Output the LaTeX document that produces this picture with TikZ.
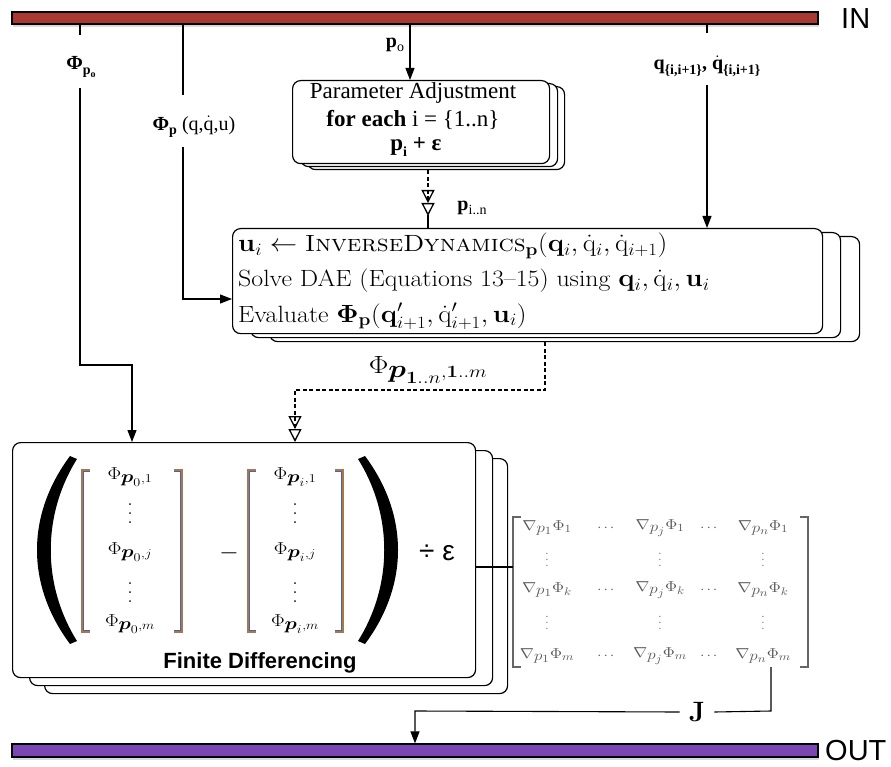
\documentclass[tikz,border=0pt]{standalone}
\usepackage[no-math]{fontspec}
\usepackage{amsmath}
\usepackage{graphicx}
\usetikzlibrary{arrows.meta,shadows,calc}
\newfontfamily\tms{Liberation Serif}
\newfontfamily\hlv{Liberation Sans}
\definecolor{inred}{RGB}{169,56,50}
\definecolor{outpurple}{RGB}{123,69,179}
\definecolor{brbrown}{RGB}{170,120,70}
\definecolor{brblue}{RGB}{70,100,175}
\newcommand{\lsub}[1]{\raisebox{-0.22em}{\fontsize{14}{14}\selectfont #1}}
\newcommand{\lsubb}[1]{\raisebox{-0.2em}{\fontsize{10}{10}\selectfont #1}}
\newcommand{\qdot}{$\dot{\text{q}}$}
\newcommand{\xs}[1]{\scalebox{1.18}[1]{#1}}
\newcommand{\xb}[1]{\scalebox{1.1}[1]{#1}}
\newcommand{\bigvd}{\vbox{\baselineskip=9pt\lineskiplimit=0pt\hbox{\fontsize{22}{22}\selectfont .}\hbox{\fontsize{22}{22}\selectfont .}\hbox{\fontsize{22}{22}\selectfont .}}}
\newcommand{\smallvd}{\vbox{\baselineskip=6pt\lineskiplimit=0pt\hbox{\fontsize{15}{15}\selectfont .}\hbox{\fontsize{15}{15}\selectfont .}\hbox{\fontsize{15}{15}\selectfont .}}}
\begin{document}
\begin{tikzpicture}[x=1pt,y=-1pt,
  line/.style={line width=1.1pt},
  arr/.style={line width=1.1pt,-{Triangle[length=12pt,width=9pt]}},
  dasharr/.style={line width=1.3pt,dash pattern=on 4pt off 2.5pt,
     -{Triangle[open,length=13pt,width=13pt,line width=1.3pt]Triangle[open,length=13pt,width=13pt,line width=1.3pt]}},
  box/.style={draw,line width=1.2pt,rounded corners=8pt,fill=white,anchor=north west,inner sep=0pt},
  bar/.style={draw,line width=1.2pt,inner sep=0pt,minimum width=806pt,minimum height=12pt,
     drop shadow={opacity=0.3,shadow xshift=1pt,shadow yshift=-3pt}},
  lbl/.style={font=\tms\bfseries\fontsize{20}{22}\selectfont,inner sep=0pt},
  ptxt/.style={font=\tms\fontsize{23}{24}\selectfont,inner sep=0pt,anchor=base},
  btxt/.style={font=\fontsize{23.5}{27}\selectfont,inner sep=0pt,anchor=base west},
  vtxt/.style={font=\fontsize{17}{20}\selectfont,inner sep=0pt},
  vdt/.style={inner sep=0pt},
  mtxt/.style={font=\fontsize{15.5}{17}\selectfont,inner sep=0pt,text=black!65},
]
\path[use as bounding box] (0,0) rectangle (891,767);

% bars
\node[bar,fill=inred] (in) at (415,18) {};
\node[bar,fill=outpurple,minimum height=13pt] (out) at (415,750.5) {};
\node[font=\hlv\fontsize{29}{30}\selectfont,anchor=west,inner sep=0pt] (intext) at (841,19) {IN};
\node[font=\hlv\fontsize{29}{30}\selectfont,anchor=west,inner sep=0pt] (outtext) at (825,751) {OUT};

% parameter adjustment stack
\node[box,minimum width=257pt,minimum height=83pt] (param3) at (307,86) {};
\node[box,minimum width=257pt,minimum height=83pt] (param2) at (300,83) {};
\node[box,minimum width=257pt,minimum height=83pt] (param) at (292,80) {};
\node[ptxt] (pt1) at (413,99) {Parameter Adjustment};
\node[ptxt] (pt2) at (413,127) {\textbf{for each} i = \{1..n\}};
\node[ptxt] (pt3) at (416,151) {\textbf{p\lsub{i} + ε}};

% inverse dynamics stack
\node[box,minimum width=590pt,minimum height=105pt] (big3) at (269,236) {};
\node[box,minimum width=590pt,minimum height=105pt] (big2) at (250,232) {};
\node[box,minimum width=590pt,minimum height=105pt] (big) at (232,228) {};
\node[btxt] (b1) at (238,252) {\xb{$\mathbf{u}_i \leftarrow \textsc{InverseDynamics}_{\mathbf{p}}(\mathbf{q}_i, \dot{\mathrm{q}}_i, \dot{\mathrm{q}}_{i+1})$}};
\node[btxt] (b2) at (238,287) {\xb{Solve DAE (Equations 13--15) using $\mathbf{q}_i, \dot{\mathrm{q}}_i, \mathbf{u}_i$}};
\node[btxt] (b3) at (238,322) {\xb{Evaluate $\mathbf{\Phi}_{\mathbf{p}}(\mathbf{q}'_{i+1}, \dot{\mathrm{q}}'_{i+1}, \mathbf{u}_i)$}};

% finite differencing stack
\node[box,minimum width=463pt,minimum height=235pt] (fd3) at (44,458) {};
\node[box,minimum width=463pt,minimum height=235pt] (fd2) at (29,450) {};
\node[box,minimum width=463pt,minimum height=235pt] (fd) at (12,442) {};

% big parentheses
\fill (70,456) .. controls (26,515) and (26,585) .. (70,644) -- (77,641)
   .. controls (42,585) and (42,515) .. (77,459) -- cycle;
\fill (365,456) .. controls (409,515) and (409,585) .. (365,644) -- (358,641)
   .. controls (393,585) and (393,515) .. (358,459) -- cycle;

% column vector brackets
\draw[brbrown,line width=1.4pt] (90,470) -| (82,632) -- (90,632);
\draw[brblue,line width=0.7pt] (90,471.5) -| (83.8,630.5) -- (90,630.5);
\draw[brbrown,line width=1.4pt] (174,470) -| (182,632) -- (174,632);
\draw[brblue,line width=0.7pt] (174,471.5) -| (180.2,630.5) -- (174,630.5);
\draw[brbrown,line width=1.4pt] (256,470) -| (248,632) -- (256,632);
\draw[brblue,line width=0.7pt] (256,471.5) -| (249.8,630.5) -- (256,630.5);
\draw[brbrown,line width=1.4pt] (335,470) -| (343,632) -- (335,632);
\draw[brblue,line width=0.7pt] (335,471.5) -| (341.2,630.5) -- (335,630.5);

\node[vtxt] (v11) at (130,477) {\xs{$\Phi_{\textstyle\boldsymbol{p}_0\scriptstyle ,1}$}};
\node[vdt] (v12) at (130,514) {\bigvd};
\node[vtxt] (v13) at (130,552) {\xs{$\Phi_{\textstyle\boldsymbol{p}_0\scriptstyle ,j}$}};
\node[vdt] (v14) at (130,593) {\bigvd};
\node[vtxt] (v15) at (130,624) {\xs{$\Phi_{\textstyle\boldsymbol{p}_0\scriptstyle ,m}$}};
\node[vtxt] (v21) at (295,477) {\xs{$\Phi_{\textstyle\boldsymbol{p}_i\scriptstyle ,1}$}};
\node[vdt] (v22) at (295,514) {\bigvd};
\node[vtxt] (v23) at (295,552) {\xs{$\Phi_{\textstyle\boldsymbol{p}_i\scriptstyle ,j}$}};
\node[vdt] (v24) at (295,593) {\bigvd};
\node[vtxt] (v25) at (295,624) {\xs{$\Phi_{\textstyle\boldsymbol{p}_i\scriptstyle ,m}$}};
\node[font=\fontsize{36}{36}\selectfont,inner sep=0pt] (minus) at (229,553) {$-$};
\node[font=\hlv\fontsize{28}{30}\selectfont,inner sep=0pt] (div) at (437,553) {÷ ε};
\node[font=\hlv\bfseries\fontsize{22}{24}\selectfont,inner sep=0pt] (fdt) at (260,663) {Finite Differencing};

% Jacobian matrix
\node[minimum width=295pt,minimum height=150pt,inner sep=0pt] (jm) at (660.5,592) {};
\draw[black!60,line width=1.3pt] (521,517) -| (513,667) -- (521,667);
\draw[black!60,line width=1.3pt] (800,517) -| (808,667) -- (800,667);
\node[mtxt] (m11) at (547,528) {\xs{$\nabla_{\textstyle p_1}\Phi_1$}};
\node[mtxt] (m12) at (607,528) {$\cdots$};
\node[mtxt] (m13) at (660,528) {\xs{$\nabla_{\textstyle p_j}\Phi_1$}};
\node[mtxt] (m14) at (710,528) {$\cdots$};
\node[mtxt] (m15) at (763,528) {\xs{$\nabla_{\textstyle p_n}\Phi_1$}};
\node[mtxt] (m21) at (547,560) {\smallvd};
\node[mtxt] (m23) at (660,560) {\smallvd};
\node[mtxt] (m25) at (763,560) {\smallvd};
\node[mtxt] (m31) at (547,590) {\xs{$\nabla_{\textstyle p_1}\Phi_k$}};
\node[mtxt] (m32) at (607,590) {$\cdots$};
\node[mtxt] (m33) at (660,590) {\xs{$\nabla_{\textstyle p_j}\Phi_k$}};
\node[mtxt] (m34) at (710,590) {$\cdots$};
\node[mtxt] (m35) at (763,590) {\xs{$\nabla_{\textstyle p_n}\Phi_k$}};
\node[mtxt] (m41) at (547,623) {\smallvd};
\node[mtxt] (m43) at (660,623) {\smallvd};
\node[mtxt] (m45) at (763,623) {\smallvd};
\node[mtxt] (m51) at (547,656) {\xs{$\nabla_{\textstyle p_1}\Phi_m$}};
\node[mtxt] (m52) at (607,656) {$\cdots$};
\node[mtxt] (m53) at (660,656) {\xs{$\nabla_{\textstyle p_j}\Phi_m$}};
\node[mtxt] (m54) at (710,656) {$\cdots$};
\node[mtxt] (m55) at (763,656) {\xs{$\nabla_{\textstyle p_n}\Phi_m$}};

% labels
\node[lbl] (lphi0) at (81,67) {Φ\lsub{p\lsubb{o}}};
\node[lbl] (lphip) at (194,127) {Φ\lsub{p} {\mdseries (q,\qdot,u)}};
\node[lbl] (lp0) at (395,45) {p\lsub{\mdseries o}};
\node[lbl] (lq) at (707,66) {q\lsub{\{i,i+1\}}, \qdot\lsub{\{i,i+1\}}};
\node[lbl] (lpin) at (472,208) {p\lsub{\mdseries i..n}};
\node[font=\fontsize{24}{26}\selectfont,inner sep=0pt] (lphin) at (428,370) {\xs{$\Phi_{\textstyle\boldsymbol{p}_{\mathbf{1}..n}\scriptstyle ,\mathbf{1}..m}$}};
\node[font=\bfseries\fontsize{28}{28}\selectfont,inner sep=0pt] (lJ) at (697,712) {J};

% coordinates
\coordinate (a1) at (80,35);
\coordinate (a2) at (80,88);
\coordinate (a3) at (132,365);
\coordinate (c1) at (183,95);
\coordinate (c2) at (183,147);
\coordinate (c3) at (183,299);
\coordinate (p1) at (410,0);
\coordinate (q1) at (707,33);
\coordinate (q2) at (707,85);
\coordinate (e1) at (428,0);
\coordinate (f1) at (545,390);
\coordinate (f2) at (295,390);
\coordinate (h1) at (513,567);
\coordinate (j1) at (771,667);
\coordinate (j2) at (771,711);
\coordinate (j3) at (415,711);

% connectors
\draw[line] (in.south -| a1) -- (a1);
\draw[arr] (a2) -- (a2 |- a3) -- (a3) -- (a3 |- fd.north);
\draw[line] (in.south -| c1) -- (c1);
\draw[arr] (c2) -- (c3) -- (c3 -| big.west);
\draw[arr] (in.south -| p1) -- (p1 |- param.north);
\draw[line] (in.south -| q1) -- (q1);
\draw[arr] (q2) -- (q2 |- big.north);
\draw[dasharr,shorten >=12pt] (e1 |- param3.south) -- (e1 |- big.north);
\draw[line] ($(e1 |- big.north)+(0,-13)$) -- (e1 |- big.north);
\draw[dasharr] (f1 |- big3.south) -- (f1) -- (f2) -- (f2 |- fd.north);
\draw[line] (fd.east |- h1) -- (h1);
\draw[line] (j1) -- (j2) -- ($(lJ.east)+(9,0)$);
\draw[arr] ($(lJ.west)+(-9,0)$) -- (j3) -- (j3 |- out.north);
\end{tikzpicture}
\end{document}
